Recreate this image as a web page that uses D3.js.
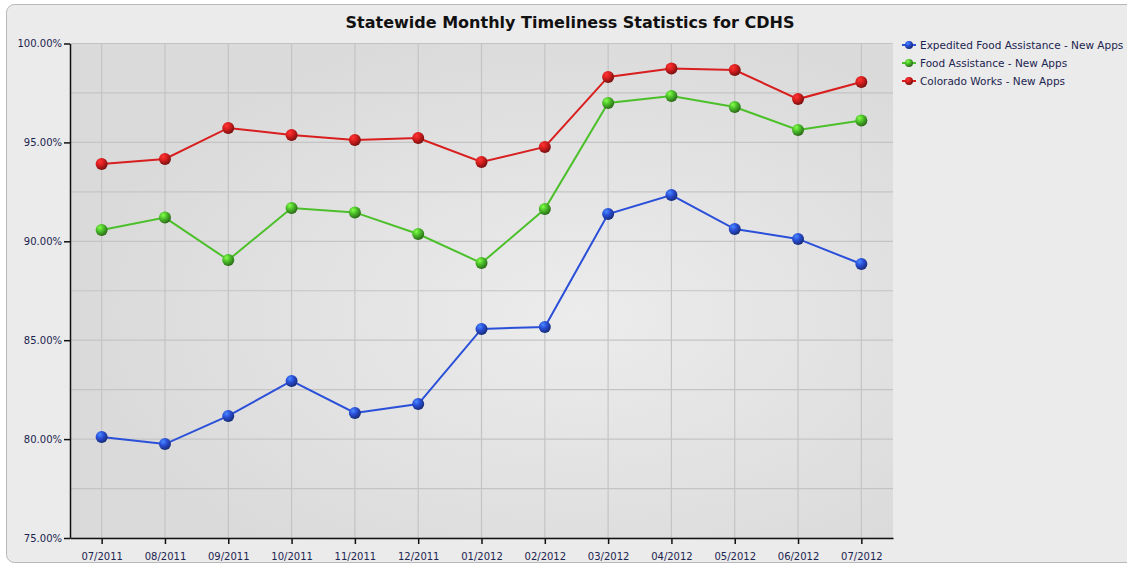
<!DOCTYPE html>
<html>
<head>
<meta charset="utf-8">
<script src="https://cdn.jsdelivr.net/npm/d3@7"></script>
<style>
  body { margin: 0; background: #fff; }
  svg text { font-family: "DejaVu Sans", Verdana, sans-serif; }
</style>
</head>
<body>
<svg id="chart" width="1127" height="567"></svg>
<script>
// chart data
var months = ['07/2011', '08/2011', '09/2011', '10/2011', '11/2011', '12/2011',
    '01/2012', '02/2012', '03/2012', '04/2012', '05/2012', '06/2012', '07/2012'];
var expedited = [80.11, 79.75, 81.17, 82.94, 81.32, 81.77, 85.57, 85.67, 91.38, 92.34, 90.62, 90.12, 88.85];
var foodAssist = [90.57, 91.20, 89.05, 91.68, 91.46, 90.37, 88.90, 91.63, 96.99, 97.35, 96.79, 95.63, 96.11];
var coWorks = [93.91, 94.16, 95.73, 95.37, 95.12, 95.22, 94.01, 94.77, 98.31, 98.74, 98.66, 97.19, 98.05];
var seriesNames = ['Expedited Food Assistance - New Apps', 'Food Assistance - New Apps', 'Colorado Works - New Apps'];
var seriesColors = ['#2a4fd8', '#4cc02a', '#d81e1e'];
var yTicks = [75, 80, 85, 90, 95, 100];

var series = [expedited, foodAssist, coWorks].map(function(vals, i) {
    return {name: seriesNames[i], col: seriesColors[i], vals: vals};
});

var svg = d3.select('#chart');
var m = {left: 70, top: 43.5, right: 893, bottom: 538};

var defs = svg.append('defs');
var bg = defs.append('radialGradient').attr('id', 'plotbg')
    .attr('cx', '62%').attr('cy', '55%').attr('r', '60%');
bg.append('stop').attr('offset', '0%').attr('stop-color', '#ececec');
bg.append('stop').attr('offset', '100%').attr('stop-color', '#dadada');

series.forEach(function(s, i) {
    var g = defs.append('radialGradient').attr('id', 'ball' + i)
        .attr('cx', '35%').attr('cy', '30%').attr('r', '70%');
    g.append('stop').attr('offset', '0%').attr('stop-color', d3.color(s.col).brighter(1.6));
    g.append('stop').attr('offset', '45%').attr('stop-color', s.col);
    g.append('stop').attr('offset', '100%').attr('stop-color', d3.color(s.col).darker(1.6));
});

// outer frame
svg.append('rect').attr('x', 6.5).attr('y', 4.5).attr('width', 1140).attr('height', 558)
    .attr('rx', 8).attr('fill', '#ebebeb').attr('stroke', '#b8b8b8');

svg.append('text').attr('x', 570).attr('y', 28).attr('text-anchor', 'middle')
    .style('font-size', '16px').style('font-weight', 'bold').attr('fill', '#111')
    .text('Statewide Monthly Timeliness Statistics for CDHS');

var x = d3.scalePoint().domain(months).range([m.left, m.right]).padding(0.5);
var y = d3.scaleLinear().domain([75, 100]).range([m.bottom, m.top]);

svg.append('rect').attr('x', m.left).attr('y', m.top)
    .attr('width', m.right - m.left).attr('height', m.bottom - m.top)
    .attr('fill', 'url(#plotbg)');

// grid
var grid = svg.append('g').attr('stroke', '#c4c4c4').attr('stroke-width', 1.2);
grid.selectAll('.hg').data(d3.range(75, 100.1, 2.5)).enter().append('line')
    .attr('x1', m.left).attr('x2', m.right)
    .attr('y1', function(d) { return y(d); }).attr('y2', function(d) { return y(d); });
grid.selectAll('.vg').data(months).enter().append('line')
    .attr('y1', m.top).attr('y2', m.bottom)
    .attr('x1', function(d) { return x(d); }).attr('x2', function(d) { return x(d); });

var yAxis = svg.append('g').attr('transform', 'translate(' + m.left + ',0)')
    .call(d3.axisLeft(y).tickValues(yTicks).tickSize(6).tickSizeOuter(0)
        .tickFormat(function(d) { return d.toFixed(2) + '%'; }));
var xAxis = svg.append('g').attr('transform', 'translate(0,' + m.bottom + ')')
    .call(d3.axisBottom(x).tickSize(6).tickSizeOuter(0));
[xAxis, yAxis].forEach(function(a) {
    a.select('.domain').attr('stroke', '#111').attr('stroke-width', 1.5);
    a.selectAll('.tick line').attr('stroke', '#111').attr('stroke-width', 1.5);
    a.selectAll('text').style('font-size', '10px').attr('fill', '#1c2450');
});
xAxis.selectAll('text').attr('dy', '1.3em');
yAxis.selectAll('text').attr('x', -8);

var line = d3.line().x(function(d, i) { return x(months[i]); }).y(function(d) { return y(d); });

series.forEach(function(s, i) {
    svg.append('path').datum(s.vals).attr('d', line)
        .attr('fill', 'none').attr('stroke', s.col).attr('stroke-width', 2);
    svg.append('g').selectAll('circle').data(s.vals).enter().append('circle')
        .attr('cx', function(d, j) { return x(months[j]); })
        .attr('cy', function(d) { return y(d); })
        .attr('r', 6).attr('fill', 'url(#ball' + i + ')');
});

// legend
var leg = svg.append('g').attr('transform', 'translate(902,45)');
series.forEach(function(s, i) {
    var g = leg.append('g').attr('transform', 'translate(0,' + (i * 18) + ')');
    g.append('line').attr('x1', 0).attr('x2', 14).attr('stroke', s.col).attr('stroke-width', 2);
    g.append('circle').attr('cx', 7).attr('r', 4).attr('fill', 'url(#ball' + i + ')');
    g.append('text').attr('x', 18).attr('dy', '0.35em').style('font-size', '10.5px')
        .attr('fill', '#1c2450').text(s.name);
});
</script>
</body>
</html>
